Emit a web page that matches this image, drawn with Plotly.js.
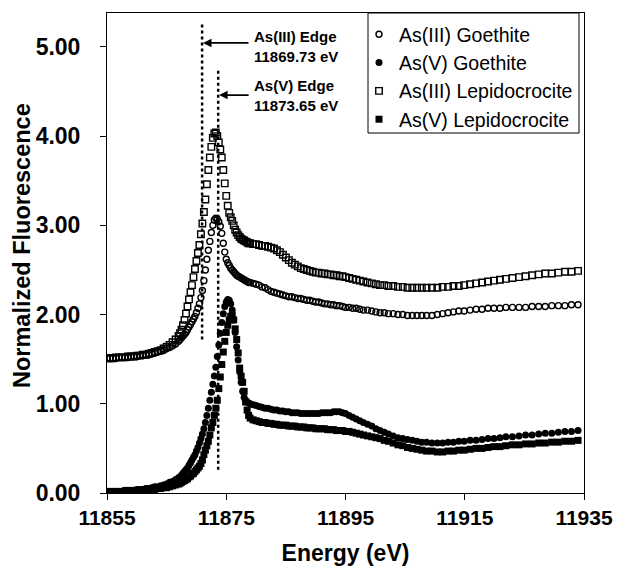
<!DOCTYPE html>
<html>
<head>
<meta charset="utf-8">
<script src="https://cdn.plot.ly/plotly-3.0.1.min.js"></script>
<style>
html,body{margin:0;padding:0;background:#fff;}
#chart{width:619px;height:580px;}
</style>
</head>
<body>
<div id="chart"></div>
<script>
// Energy grid (eV)
const energy = [
  11855, 11855.5, 11856, 11856.5, 11857, 11857.5, 11858, 11858.5, 11859, 11859.5,
  11860, 11860.5, 11861, 11861.5, 11862, 11862.5, 11863, 11863.5, 11864, 11864.5,
  11865, 11865.5, 11866, 11866.5, 11867,
  11867.25, 11867.5, 11867.75, 11868, 11868.25, 11868.5, 11868.75, 11869,
  11869.25, 11869.5, 11869.75, 11870, 11870.25, 11870.5, 11870.75, 11871,
  11871.25, 11871.5, 11871.75, 11872, 11872.25, 11872.5, 11872.75, 11873,
  11873.25, 11873.5, 11873.75, 11874, 11874.25, 11874.5, 11874.75, 11875,
  11875.25, 11875.5, 11875.75, 11876, 11876.25, 11876.5, 11876.75, 11877,
  11877.25, 11877.5, 11877.75, 11878, 11878.25, 11878.5, 11878.75, 11879,
  11879.5, 11880, 11880.5, 11881, 11881.5, 11882, 11882.5, 11883, 11883.5, 11884,
  11884.5, 11885, 11885.5, 11886, 11886.5, 11887, 11887.5, 11888, 11888.5, 11889,
  11889.5, 11890, 11890.5, 11891, 11891.5, 11892, 11892.5, 11893, 11893.5, 11894,
  11894.5, 11895,
  11895.6, 11896.2, 11896.8, 11897.4, 11898.0, 11898.7, 11899.4, 11900.1, 11900.8, 11901.5,
  11902.2, 11903.0, 11903.8, 11904.6, 11905.4, 11906.2, 11907.0, 11907.8, 11908.6, 11909.5,
  11910.4, 11911.3, 11912.2, 11913.1, 11914.0, 11914.9, 11915.9, 11916.9, 11917.9, 11918.9,
  11919.9, 11920.9, 11921.9, 11923.0, 11924.1, 11925.2, 11926.3, 11927.4, 11928.5, 11929.6,
  11930.7, 11931.8, 11932.9, 11934.0
];

// As(III) Goethite
const as3Goethite = [
  1.51, 1.51, 1.51, 1.51, 1.52, 1.52, 1.52, 1.52, 1.53, 1.53,
  1.53, 1.54, 1.54, 1.55, 1.55, 1.56, 1.57, 1.58, 1.59, 1.60,
  1.62, 1.63, 1.65, 1.67, 1.70,
  1.72, 1.74, 1.76, 1.78, 1.80, 1.83, 1.86, 1.89,
  1.92, 1.95, 1.98, 2.02, 2.07, 2.12, 2.19, 2.27,
  2.38, 2.50, 2.62, 2.72, 2.82, 2.92, 3.00, 3.06,
  3.08, 3.07, 3.04, 2.99, 2.91, 2.80, 2.70, 2.62,
  2.58, 2.55, 2.52, 2.50, 2.48, 2.46, 2.44, 2.43,
  2.42, 2.41, 2.40, 2.39, 2.38, 2.37, 2.36, 2.36,
  2.35, 2.34, 2.33, 2.31, 2.30, 2.28, 2.26, 2.25, 2.24, 2.23,
  2.22, 2.21, 2.20, 2.20, 2.19, 2.18, 2.18, 2.17, 2.16, 2.16,
  2.15, 2.14, 2.14, 2.13, 2.12, 2.12, 2.11, 2.11, 2.10, 2.10,
  2.09, 2.08,
  2.08, 2.07, 2.07, 2.06, 2.05, 2.05, 2.04, 2.03, 2.02, 2.02,
  2.01, 2.01, 2.00, 2.00, 1.99, 1.99, 1.99, 1.99, 1.99, 1.99,
  2.00, 2.01, 2.02, 2.03, 2.04, 2.04, 2.05, 2.06, 2.06, 2.07,
  2.07, 2.07, 2.08, 2.08, 2.08, 2.08, 2.09, 2.09, 2.09, 2.10,
  2.10, 2.10, 2.11, 2.11
];

// As(V) Goethite
const as5Goethite = [
  0.02, 0.02, 0.02, 0.02, 0.02, 0.02, 0.03, 0.03, 0.03, 0.03,
  0.04, 0.04, 0.04, 0.05, 0.05, 0.06, 0.07, 0.07, 0.08, 0.09,
  0.10, 0.12, 0.13, 0.15, 0.17,
  0.18, 0.20, 0.22, 0.24, 0.26, 0.28, 0.31, 0.34,
  0.37, 0.40, 0.43, 0.47, 0.51, 0.56, 0.61, 0.66,
  0.72, 0.79, 0.87, 0.95, 1.04, 1.13, 1.22, 1.31,
  1.41, 1.53, 1.66, 1.79, 1.91, 2.01, 2.09, 2.14,
  2.17, 2.16, 2.12, 2.05, 1.94, 1.80, 1.64, 1.49,
  1.36, 1.24, 1.14, 1.07, 1.04, 1.02, 1.01, 1.00,
  0.99, 0.98, 0.97, 0.96, 0.95, 0.95, 0.94, 0.93, 0.93, 0.92,
  0.92, 0.91, 0.91, 0.90, 0.90, 0.90, 0.89, 0.89, 0.89, 0.89,
  0.89, 0.89, 0.89, 0.90, 0.90, 0.90, 0.90, 0.91, 0.91, 0.91,
  0.90, 0.89,
  0.87, 0.85, 0.83, 0.81, 0.79, 0.77, 0.75, 0.72, 0.70, 0.68,
  0.66, 0.64, 0.62, 0.61, 0.60, 0.59, 0.58, 0.57, 0.57, 0.56,
  0.56, 0.56, 0.57, 0.57, 0.58, 0.58, 0.59, 0.59, 0.60, 0.61,
  0.61, 0.62, 0.63, 0.63, 0.64, 0.65, 0.65, 0.66, 0.67, 0.67,
  0.68, 0.69, 0.69, 0.70
];

// As(III) Lepidocrocite
const as3Lepidocrocite = [
  1.51, 1.51, 1.51, 1.52, 1.52, 1.52, 1.52, 1.53, 1.53, 1.53,
  1.54, 1.54, 1.55, 1.55, 1.56, 1.57, 1.58, 1.59, 1.60, 1.62,
  1.64, 1.66, 1.69, 1.72, 1.76,
  1.79, 1.83, 1.88, 1.94, 2.01, 2.09, 2.17, 2.25,
  2.33, 2.42, 2.51, 2.60, 2.69, 2.78, 2.90, 3.02,
  3.15, 3.29, 3.46, 3.62, 3.76, 3.88, 3.98, 4.03,
  4.04, 4.00, 3.93, 3.85, 3.76, 3.62, 3.47, 3.33,
  3.22, 3.14, 3.09, 3.05, 3.00, 2.95, 2.92, 2.89,
  2.87, 2.85, 2.84, 2.83, 2.82, 2.81, 2.80, 2.80,
  2.79, 2.79, 2.78, 2.77, 2.77, 2.76, 2.75, 2.74, 2.72, 2.70,
  2.67, 2.64, 2.61, 2.58, 2.56, 2.54, 2.52, 2.51, 2.50, 2.49,
  2.48, 2.47, 2.47, 2.46, 2.46, 2.45, 2.45, 2.44, 2.44, 2.43,
  2.43, 2.42,
  2.41, 2.40, 2.39, 2.38, 2.37, 2.36, 2.35, 2.34, 2.33, 2.33,
  2.32, 2.32, 2.31, 2.31, 2.30, 2.30, 2.30, 2.30, 2.30, 2.30,
  2.30, 2.31, 2.31, 2.32, 2.32, 2.33, 2.34, 2.35, 2.36, 2.37,
  2.38, 2.39, 2.40, 2.41, 2.42, 2.43, 2.44, 2.45, 2.46, 2.46,
  2.47, 2.48, 2.48, 2.49
];

// As(V) Lepidocrocite
const as5Lepidocrocite = [
  0.01, 0.01, 0.01, 0.01, 0.01, 0.01, 0.02, 0.02, 0.02, 0.02,
  0.02, 0.03, 0.03, 0.03, 0.03, 0.04, 0.04, 0.05, 0.05, 0.06,
  0.06, 0.07, 0.08, 0.09, 0.10,
  0.11, 0.12, 0.13, 0.14, 0.15, 0.16, 0.18, 0.19,
  0.21, 0.22, 0.24, 0.26, 0.28, 0.30, 0.33, 0.37,
  0.43, 0.48, 0.53, 0.58, 0.65, 0.73, 0.79, 0.87,
  0.95, 1.04, 1.17, 1.30, 1.44, 1.58, 1.70, 1.80,
  1.88, 1.94, 1.98, 1.99, 1.94, 1.84, 1.72, 1.57,
  1.40, 1.31, 1.24, 1.14, 1.02, 0.93, 0.87, 0.84,
  0.82, 0.81, 0.80, 0.79, 0.79, 0.78, 0.78, 0.77, 0.77, 0.76,
  0.76, 0.76, 0.75, 0.75, 0.75, 0.74, 0.74, 0.74, 0.73, 0.73,
  0.73, 0.72, 0.72, 0.72, 0.72, 0.71, 0.71, 0.71, 0.70, 0.70,
  0.70, 0.69,
  0.69, 0.68, 0.67, 0.66, 0.65, 0.64, 0.63, 0.62, 0.61, 0.59,
  0.58, 0.56, 0.54, 0.53, 0.51, 0.50, 0.49, 0.48, 0.47, 0.47,
  0.46, 0.46, 0.47, 0.47, 0.48, 0.48, 0.49, 0.50, 0.50, 0.51,
  0.52, 0.52, 0.53, 0.54, 0.54, 0.55, 0.55, 0.56, 0.56, 0.57,
  0.57, 0.58, 0.58, 0.59
];

const seriesNames = ['As(III) Goethite', 'As(V) Goethite', 'As(III) Lepidocrocite', 'As(V) Lepidocrocite'];
const xTicks = [11855, 11875, 11895, 11915, 11935];
const yTicks = [0, 1, 2, 3, 4, 5];
const edgeLabels = ['As(III) Edge<br>11869.73 eV', 'As(V) Edge<br>11873.65 eV'];
const yTitle = 'Normalized Fluorescence';
const xTitle = 'Energy (eV)';

const FONT = 'Liberation Sans, Arial, Helvetica, sans-serif';

function tr(name, y, symbol, size, lw) {
  return {
    type: 'scatter', mode: 'markers', name: name, x: energy, y: y,
    legendgroup: name,
    marker: {symbol: symbol, size: size, color: '#000', line: {color: '#000', width: lw}}
  };
}

const data = [
  tr(seriesNames[0], as3Goethite, 'circle-open', 6, 1.4),
  tr(seriesNames[1], as5Goethite, 'circle', 7, 0),
  tr(seriesNames[2], as3Lepidocrocite, 'square-open', 6.5, 1.4),
  tr(seriesNames[3], as5Lepidocrocite, 'square', 7, 0)
];

// plot area in pixels: left 107, right 584, top 13, bottom 493
const PL = 107, PW = 477, PT = 13, PH = 480;
const px = v => (v - PL) / PW;
const py = v => 1 - (v - PT) / PH;

const layout = {
  width: 619, height: 580,
  margin: {l: 107, r: 35, t: 13, b: 87},
  paper_bgcolor: '#fff', plot_bgcolor: '#fff',
  font: {family: FONT, color: '#000'},
  showlegend: true,
  legend: {
    x: px(359), y: py(15), xanchor: 'left', yanchor: 'top',
    bgcolor: 'rgba(0,0,0,0)', borderwidth: 0,
    font: {family: FONT, size: 19.5, color: '#000'},
    itemwidth: 30, tracegroupgap: 0
  },
  xaxis: {
    range: [11855, 11935], tickvals: xTicks, tickformat: 'd',
    showgrid: false, zeroline: false,
    showline: true, mirror: true, linecolor: '#000', linewidth: 1,
    ticks: 'outside', ticklen: 6, tickwidth: 1, tickcolor: '#000',
    tickfont: {family: FONT, size: 21, weight: 'bold'},
    title: {text: xTitle, font: {family: FONT, size: 23, weight: 'bold'}, standoff: 16}
  },
  yaxis: {
    range: [0, 5.38], tickvals: yTicks, tickformat: '.2f',
    showgrid: false, zeroline: false,
    showline: true, mirror: true, linecolor: '#000', linewidth: 1,
    ticks: 'outside', ticklen: 6, tickwidth: 1, tickcolor: '#000',
    ticklabelstandoff: 15,
    tickfont: {family: FONT, size: 23, weight: 'bold'}
  },
  shapes: [
    {type: 'rect', xref: 'paper', yref: 'paper', x0: px(368), x1: px(579), y0: py(133), y1: py(13),
     line: {color: '#000', width: 1}, fillcolor: 'rgba(0,0,0,0)'},
    {type: 'line', xref: 'x', yref: 'y', x0: 11870.95, x1: 11870.95, y0: 1.72, y1: 5.25,
     line: {color: '#000', width: 2.5, dash: 'dot'}},
    {type: 'line', xref: 'x', yref: 'y', x0: 11873.65, x1: 11873.65, y0: 0.26, y1: 4.74,
     line: {color: '#000', width: 2.5, dash: 'dot'}}
  ],
  annotations: [
    {xref: 'paper', yref: 'paper', x: px(22), y: py(246), text: yTitle, textangle: -90,
     showarrow: false, xanchor: 'center', yanchor: 'middle',
     font: {family: FONT, size: 23.5, weight: 'bold', color: '#000'}},
    {xref: 'x', yref: 'y', x: 11871.1, y: 5.045, ax: 47, ay: 0, text: '', showarrow: true,
     arrowhead: 2, arrowsize: 1, arrowwidth: 1.7, arrowcolor: '#000', standoff: 0, startstandoff: 0},
    {xref: 'x', yref: 'y', x: 11873.8, y: 4.46, ax: 31, ay: 0, text: '', showarrow: true,
     arrowhead: 2, arrowsize: 1, arrowwidth: 1.7, arrowcolor: '#000', standoff: 0, startstandoff: 0},
    {xref: 'x', yref: 'y', x: 11879.4, y: 5.0, text: edgeLabels[0], showarrow: false,
     xanchor: 'left', yanchor: 'middle', align: 'left',
     font: {family: FONT, size: 15, weight: 'bold', color: '#000'}},
    {xref: 'x', yref: 'y', x: 11879.4, y: 4.46, text: edgeLabels[1], showarrow: false,
     xanchor: 'left', yanchor: 'middle', align: 'left',
     font: {family: FONT, size: 15, weight: 'bold', color: '#000'}}
  ]
};

Plotly.newPlot('chart', data, layout, {displayModeBar: false, staticPlot: true});
</script>
</body>
</html>
